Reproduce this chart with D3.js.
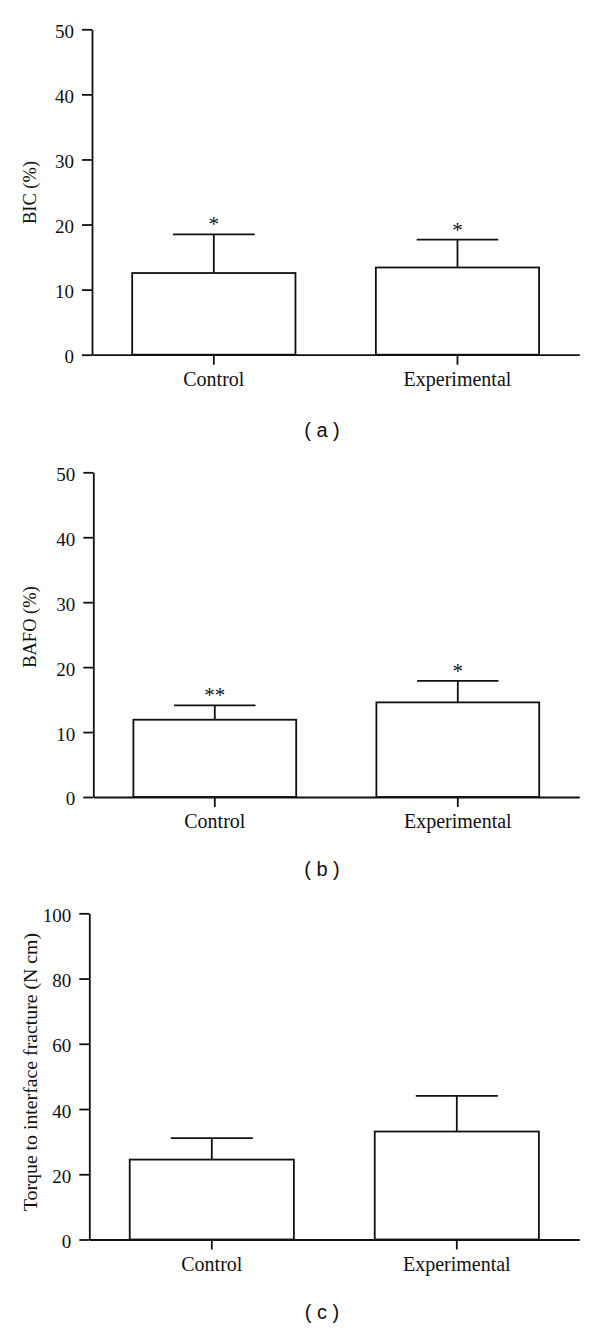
<!DOCTYPE html>
<html>
<head>
<meta charset="utf-8">
<script src="https://cdn.jsdelivr.net/npm/d3@7"></script>
<style>
  html, body { margin: 0; padding: 0; background: #fff; }
  svg { display: block; }
</style>
</head>
<body>
<svg id="chart" width="600" height="1329"></svg>
<script>
// ---- data ----
const categories = ["Control", "Experimental"];

const bicMean = [12.55, 13.4];
const bicSD = [5.95, 4.27];
const bicSig = ["*", "*"];
const bicTicks = [0, 10, 20, 30, 40, 50];

const bafoMean = [11.9, 14.57];
const bafoSD = [2.2, 3.3];
const bafoSig = ["**", "*"];
const bafoTicks = [0, 10, 20, 30, 40, 50];

const torqueMean = [24.5, 33.1];
const torqueSD = [6.6, 10.9];
const torqueSig = ["", ""];
const torqueTicks = [0, 20, 40, 60, 80, 100];

const panelCaptions = ["( a )", "( b )", "( c )"];
const yTitles = ["BIC (%)", "BAFO (%)", "Torque to interface fracture (N cm)"];

// ---- drawing ----
const svg = d3.select("#chart");
const ink = "#111";
const serif = "'Liberation Serif', 'Times New Roman', serif";
const sans = "'Liberation Sans', Arial, sans-serif";

const panels = [
  { mean: bicMean, sd: bicSD, sig: bicSig, ticks: bicTicks, max: 50,
    left: 92, right: 579.3, top: 29.3, bottom: 354.7, titleY: 192.5, titleSize: 18.5, capY: 430 },
  { mean: bafoMean, sd: bafoSD, sig: bafoSig, ticks: bafoTicks, max: 50,
    left: 93.3, right: 579.3, top: 472.3, bottom: 797, titleY: 627, titleSize: 18.5, capY: 869 },
  { mean: torqueMean, sd: torqueSD, sig: torqueSig, ticks: torqueTicks, max: 100,
    left: 89.3, right: 579.3, top: 913.3, bottom: 1239.5, titleY: 1072, titleSize: 19.8, capY: 1312 }
];

panels.forEach((p, i) => {
  const g = svg.append("g");
  const x = d3.scaleBand().domain(categories).range([p.left, p.right])
    .paddingInner(0.33).paddingOuter(0.165);
  const y = d3.scaleLinear().domain([0, p.max]).range([p.bottom, p.top]);

  // bars
  g.selectAll("rect.bar").data(categories).join("rect")
    .attr("x", d => x(d))
    .attr("y", (d, j) => y(p.mean[j]))
    .attr("width", x.bandwidth())
    .attr("height", (d, j) => y(0) - y(p.mean[j]))
    .attr("fill", "#fff").attr("stroke", ink).attr("stroke-width", 1.8);

  // error bars (upper only)
  const capHalf = x.bandwidth() * 0.25;
  categories.forEach((c, j) => {
    const cx = x(c) + x.bandwidth() / 2;
    const yTop = y(p.mean[j] + p.sd[j]);
    g.append("line").attr("x1", cx).attr("x2", cx)
      .attr("y1", y(p.mean[j])).attr("y2", yTop)
      .attr("stroke", ink).attr("stroke-width", 1.8);
    g.append("line").attr("x1", cx - capHalf).attr("x2", cx + capHalf)
      .attr("y1", yTop).attr("y2", yTop)
      .attr("stroke", ink).attr("stroke-width", 1.8);
    if (p.sig[j]) {
      g.append("text").attr("x", cx).attr("y", yTop - 3)
        .attr("text-anchor", "middle")
        .attr("font-family", serif).attr("font-size", 21)
        .attr("fill", ink).text(p.sig[j]);
    }
  });

  // y axis
  const yAxis = g.append("g").attr("transform", `translate(${p.left},0)`)
    .call(d3.axisLeft(y).tickValues(p.ticks).tickSize(10).tickSizeOuter(0).tickPadding(8));
  yAxis.select(".domain").attr("stroke", ink).attr("stroke-width", 1.8);
  yAxis.selectAll(".tick line").attr("stroke", ink).attr("stroke-width", 1.8);
  yAxis.selectAll(".tick text").attr("font-family", serif).attr("font-size", 19)
    .attr("fill", ink).attr("dy", "0.42em");

  // x axis
  const xAxis = g.append("g").attr("transform", `translate(0,${p.bottom})`)
    .call(d3.axisBottom(x).tickSize(10).tickSizeOuter(0).tickPadding(7));
  xAxis.select(".domain").attr("stroke", ink).attr("stroke-width", 1.8);
  xAxis.selectAll(".tick line").attr("stroke", ink).attr("stroke-width", 1.8);
  xAxis.selectAll(".tick text").attr("font-family", serif).attr("font-size", 20)
    .attr("fill", ink).attr("dy", "0.72em");

  // y title
  g.append("text")
    .attr("transform", `translate(30,${p.titleY}) rotate(-90)`)
    .attr("text-anchor", "middle").attr("dy", "0.35em")
    .attr("font-family", serif).attr("font-size", p.titleSize).attr("fill", ink)
    .text(yTitles[i]);

  // panel caption
  svg.append("text").attr("x", 322).attr("y", p.capY)
    .attr("text-anchor", "middle").attr("dy", "0.35em")
    .attr("font-family", sans).attr("font-size", 20).attr("fill", ink)
    .text(panelCaptions[i]);
});
</script>
</body>
</html>
